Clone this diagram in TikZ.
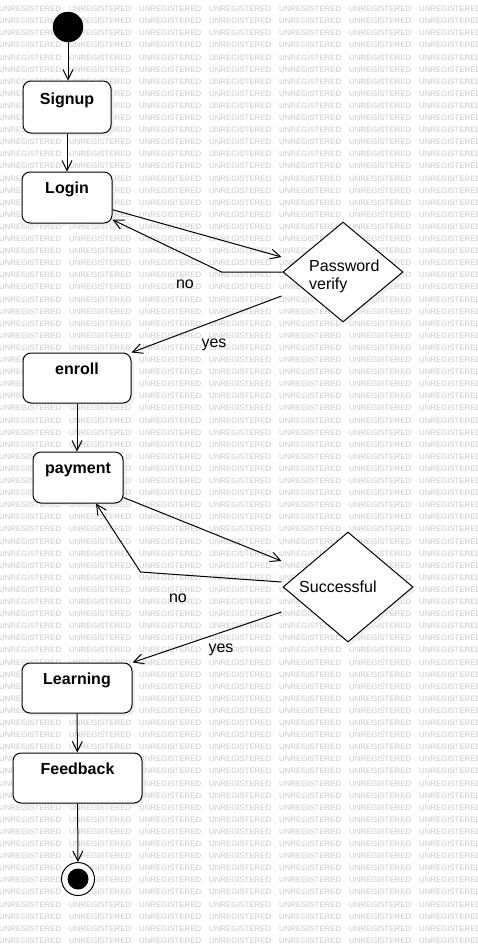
\documentclass[tikz,border=0pt]{standalone}
\usepackage{fontspec}
\setmainfont{Liberation Sans}
\usepackage{tikz}
\usetikzlibrary{calc,shapes.geometric,shadows,arrows.meta}

\tikzset{
	statebox/.style={draw, fill=white, line width=1pt, rounded corners=8pt, minimum height=51pt, inner sep=0pt,
		drop shadow={shadow xshift=3pt, shadow yshift=-3pt, fill=black!7, opacity=0.8}},
	statetext/.style={anchor=base, inner sep=0pt, font=\bfseries\fontsize{16}{19}\selectfont},
	choice/.style={diamond, draw, fill=white, line width=1pt, inner sep=0pt,
		drop shadow={shadow xshift=3pt, shadow yshift=-3pt, fill=black!7, opacity=0.8}},
	choicetext/.style={inner sep=0pt, align=left, font=\fontsize{16}{18}\selectfont},
	guard/.style={anchor=base, inner sep=0pt, font=\fontsize{16}{19}\selectfont},
	flow/.style={draw, line width=1pt, -{Straight Barb[length=10pt,width=10pt]}},
	watermark/.style={anchor=west, inner sep=0pt, text=black!21, font=\fontsize{7.8}{9}\selectfont}
}

\begin{document}
\begin{tikzpicture}[x=1pt, y=-1pt]
			%%%%% START %%%%%
			
			\fill[white] (0, 0) rectangle (477, 945);
			\useasboundingbox (0, 0) rectangle (477, 945);
			
			% background stamp
			\begin{scope}
				\clip (0, 0) rectangle (477, 945);
				\foreach \r in {0,...,78}
					\foreach \c in {0,...,6}
						\node[watermark] (wm-\r-\c) at (\c*70 - 1, 9 + \r*12.1) {UNREGISTERED};
			\end{scope}
			
			% states
			\node[circle, draw, fill=black, minimum size=30pt, inner sep=0pt] (init) at (68, 27) {};
			
			\node[statebox, minimum width=88pt, minimum height=52pt] (signup) at (67, 107) {};
			\node[statetext] (signupT) at ($(signup.north)+(0, 23.5)$) {Signup};
			
			\node[statebox, minimum width=90pt] (login) at (67, 197.5) {};
			\node[statetext] (loginT) at ($(login.north)+(0, 22)$) {Login};
			
			\node[choice, minimum width=120pt, minimum height=100pt] (pwd) at (343, 272) {};
			\node[choicetext, anchor=west] (pwdT) at (309, 276) {Password\\verify};
			
			\node[statebox, minimum width=108pt, minimum height=50pt] (enroll) at (77, 378) {};
			\node[statetext] (enrollT) at ($(enroll.north)+(0, 22)$) {enroll};
			
			\node[statebox, minimum width=90pt] (payment) at (78, 477.5) {};
			\node[statetext] (paymentT) at ($(payment.north)+(0, 22)$) {payment};
			
			\node[choice, minimum width=130pt, minimum height=110pt] (succ) at (348, 587) {};
			\node[choicetext, anchor=base west] (succT) at (299, 592) {Successful};
			
			\node[statebox, minimum width=110pt, minimum height=50pt] (learning) at (77, 688) {};
			\node[statetext] (learningT) at ($(learning.north)+(0, 21.5)$) {Learning};
			
			\node[statebox, minimum width=129pt, minimum height=50pt] (feedback) at (77.5, 778) {};
			\node[statetext] (feedbackT) at ($(feedback.north)+(0, 21.5)$) {Feedback};
			
			\node[circle, draw, fill=white, line width=1pt, minimum size=33pt, inner sep=0pt] (final) at (78, 879) {};
			\node[circle, fill=black, minimum size=21pt, inner sep=0pt] (finalDot) at (final) {};
			
			% ports and bends
			\coordinate (pwdIn) at ($(pwd.west)+(-1, -15)$);
			\coordinate (pwdBend) at ($(pwd.west)+(-61, 0)$);
			\coordinate (pwdYes) at ($(pwd.west)+(-1, 24)$);
			\coordinate (payOut) at ($(payment.south east)+(0, -6)$);
			\coordinate (payBack) at ($(payment.south)+(18, 0)$);
			\coordinate (succIn) at ($(succ.west)+(-1, -26)$);
			\coordinate (succNo) at ($(succ.west)+(-1, -5)$);
			\coordinate (succBend) at ($(succ.west)+(-142, -15)$);
			\coordinate (succYes) at ($(succ.west)+(-1, 25)$);
			
			% transitions
			\draw[flow] (init) -- (init |- signup.north);
			\draw[flow] (signup) -- (login);
			\draw[flow] (login.-15.5) -- (pwdIn);
			\draw[flow] (pwd.west) -- (pwdBend) -- (login.-26.6);
			\draw[flow] (pwdYes) -- (enroll.north east);
			\draw[flow] (enroll) -- (enroll |- payment.north);
			\draw[flow] (payOut) -- (succIn);
			\draw[flow] (succNo) -- (succBend) -- (payBack);
			\draw[flow] (succYes) -- (learning.north east);
			\draw[flow] (learning) -- (feedback);
			\draw[flow] (feedback) -- (final);
			
			% guards
			\node[guard] (pwdNoL) at (185, 288) {no};
			\node[guard] (pwdYesL) at (214, 347) {yes};
			\node[guard] (succNoL) at (178, 602) {no};
			\node[guard] (succYesL) at (221, 652) {yes};
			
			%%%%% END %%%%%
\end{tikzpicture}
\end{document}
